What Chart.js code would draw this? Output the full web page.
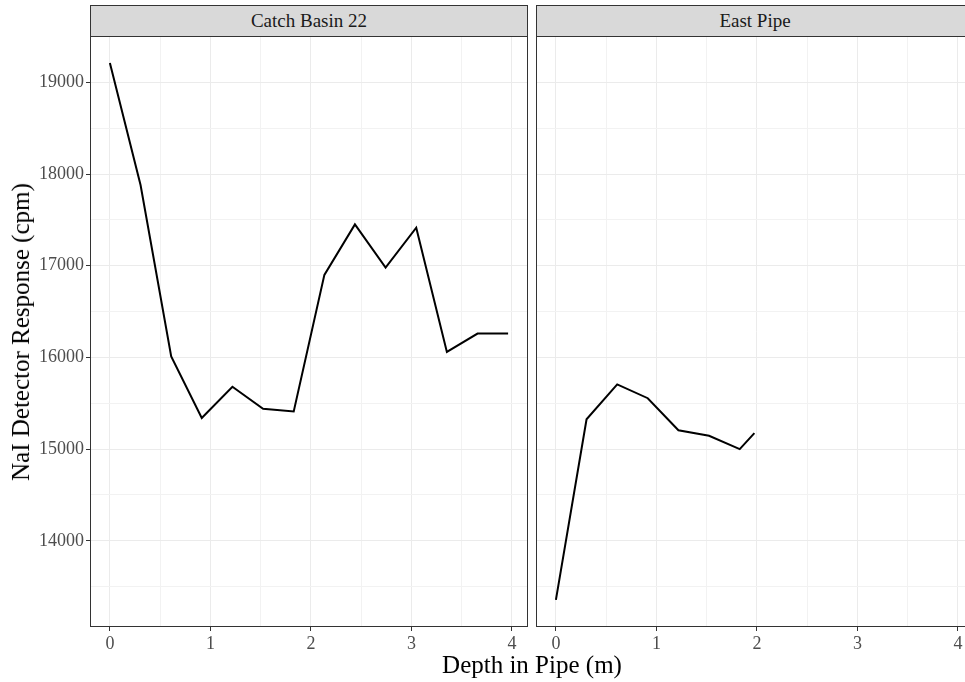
<!DOCTYPE html>
<html>
<head>
<meta charset="utf-8">
<script src="https://cdn.jsdelivr.net/npm/chart.js@4.4.1/dist/chart.umd.min.js"></script>
<style>
  body { margin: 0; background: #fff; overflow: hidden; }
  #wrap { position: relative; width: 965px; height: 682px; overflow: hidden; font-family: "Liberation Serif", serif; }
  canvas { position: absolute; top: 0; }
  .strip { position: absolute; top: 5px; height: 32px; box-sizing: border-box; background: #d9d9d9;
           border: 1px solid #333; color: #1a1a1a; font-size: 19px; text-align: center; line-height: 29px; }
  .ytitle { position: absolute; left: 21px; top: 332px; transform: translate(-50%, -50%) rotate(-90deg);
            font-size: 25px; white-space: nowrap; color: #000; }
  .xtitle { position: absolute; left: 532px; top: 665px; transform: translate(-50%, -50%);
            font-size: 25px; white-space: nowrap; color: #000; }
</style>
</head>
<body>
<div id="wrap">
  <canvas id="left" width="528" height="682" style="left:0"></canvas>
  <canvas id="right" width="438" height="682" style="left:536px"></canvas>
  <div class="strip" style="left:90px;width:438px">Catch Basin 22</div>
  <div class="strip" style="left:536px;width:438px">East Pipe</div>
  <div class="ytitle">NaI Detector Response (cpm)</div>
  <div class="xtitle">Depth in Pipe (m)</div>
</div>
<script>
// data (depth in m, counts per minute)
var depthCB = [0, 0.305, 0.61, 0.914, 1.219, 1.524, 1.829, 2.134, 2.438, 2.743, 3.048, 3.353, 3.658, 3.962];
var cpmCB   = [19210, 17880, 16010, 15340, 15680, 15440, 15410, 16900, 17450, 16980, 17415, 16060, 16260, 16260];
var depthEP = [0, 0.305, 0.61, 0.914, 1.219, 1.524, 1.829, 1.975];
var cpmEP   = [13355, 15325, 15705, 15555, 15205, 15145, 15000, 15175];

var xTicks = [0, 1, 2, 3, 4];
var yTicks = [14000, 15000, 16000, 17000, 18000, 19000];

var X_MIN = -0.198, X_MAX = 4.16, Y_MIN = 13060, Y_MAX = 19505;

function withMinor(major, lo, hi) {
  var step = major[1] - major[0];
  var out = [];
  for (var i = 0; i < major.length; i++) {
    out.push({ value: major[i], major: true });
    var m = major[i] + step / 2;
    if (m < hi) out.push({ value: m, major: false });
    var b = major[i] - step / 2;
    if (i === 0 && b > lo) out.push({ value: b, major: false });
  }
  return out.sort(function (a, b) { return a.value - b.value; });
}

function isMajor(list, v) { return list.indexOf(v) !== -1; }

var panelBorder = {
  id: 'panelBorder',
  afterDraw: function (chart) {
    var a = chart.chartArea, ctx = chart.ctx;
    ctx.save();
    ctx.strokeStyle = '#333333';
    ctx.lineWidth = 1;
    ctx.strokeRect(a.left + 0.5, a.top + 0.5, a.right - a.left - 1, a.bottom - a.top - 1);
    ctx.restore();
  }
};

function makePanel(id, xs, ys, showY) {
  var pts = xs.map(function (x, i) { return { x: x, y: ys[i] }; });
  return new Chart(document.getElementById(id), {
    type: 'line',
    data: { datasets: [{ data: pts, borderColor: '#000000', borderWidth: 2, pointRadius: 0, tension: 0, fill: false }] },
    plugins: [panelBorder],
    options: {
      responsive: false,
      animation: false,
      layout: { padding: { top: 36, right: 0, left: 0, bottom: 0 } },
      plugins: { legend: { display: false }, tooltip: { enabled: false } },
      scales: {
        x: {
          type: 'linear', min: X_MIN, max: X_MAX,
          afterBuildTicks: function (s) { s.ticks = withMinor(xTicks, X_MIN, X_MAX); },
          afterFit: function (s) { s.height = 55; },
          border: { display: false },
          grid: {
            color: function (c) { return isMajor(xTicks, c.tick.value) ? '#ebebeb' : '#f2f2f2'; },
            lineWidth: 1, tickLength: 4,
            tickColor: function (c) { return isMajor(xTicks, c.tick.value) ? '#333333' : 'rgba(0,0,0,0)'; }
          },
          ticks: {
            autoSkip: false, maxRotation: 0, padding: 2, color: '#4d4d4d',
            font: { family: 'Liberation Serif', size: 18 },
            callback: function (v) { return isMajor(xTicks, v) ? String(v) : ''; }
          }
        },
        y: {
          type: 'linear', min: Y_MIN, max: Y_MAX,
          afterBuildTicks: function (s) { s.ticks = withMinor(yTicks, Y_MIN, Y_MAX); },
          afterFit: function (s) { s.width = showY ? 90 : 0; },
          border: { display: false },
          grid: {
            color: function (c) { return isMajor(yTicks, c.tick.value) ? '#ebebeb' : '#f2f2f2'; },
            lineWidth: 1, drawTicks: showY, tickLength: 4,
            tickColor: function (c) { return isMajor(yTicks, c.tick.value) ? '#333333' : 'rgba(0,0,0,0)'; }
          },
          ticks: {
            display: showY, autoSkip: false, padding: 2, color: '#4d4d4d',
            font: { family: 'Liberation Serif', size: 18 },
            callback: function (v) { return isMajor(yTicks, v) ? String(v) : ''; }
          }
        }
      }
    }
  });
}

makePanel('left', depthCB, cpmCB, true);
makePanel('right', depthEP, cpmEP, false);
</script>
</body>
</html>
